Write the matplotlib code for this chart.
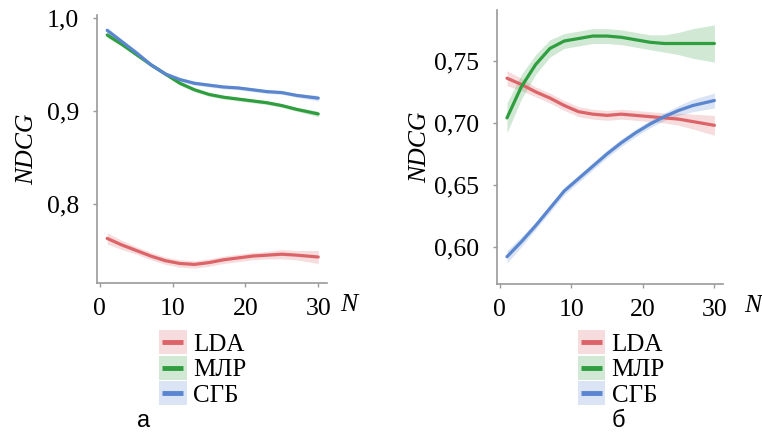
import matplotlib.pyplot as plt
from matplotlib.patches import Rectangle
from matplotlib.lines import Line2D

plt.rcParams['font.family'] = ['Liberation Serif', 'DejaVu Serif']

# number of recommendations
n_vals = [1, 3, 5, 7, 9, 11, 13, 15, 17, 19, 21, 23, 25, 27, 30]

# panel a
a_lda = [0.763, 0.756, 0.750, 0.744, 0.739, 0.736, 0.735, 0.737, 0.740, 0.742, 0.744, 0.745, 0.746, 0.745, 0.743]
a_mlr = [0.982, 0.972, 0.961, 0.950, 0.940, 0.930, 0.923, 0.918, 0.915, 0.913, 0.911, 0.909, 0.906, 0.902, 0.897]
a_sgb = [0.987, 0.975, 0.963, 0.950, 0.940, 0.934, 0.930, 0.928, 0.926, 0.925, 0.923, 0.921, 0.920, 0.917, 0.914]
a_lda_ci = [0.006, 0.005, 0.004, 0.004, 0.004, 0.004, 0.004, 0.004, 0.004, 0.004, 0.004, 0.004, 0.005, 0.005, 0.007]
a_mlr_ci = [0.003, 0.002, 0.002, 0.002, 0.002, 0.002, 0.002, 0.002, 0.002, 0.002, 0.002, 0.002, 0.002, 0.002, 0.003]
a_sgb_ci = [0.003, 0.002, 0.002, 0.002, 0.002, 0.002, 0.002, 0.002, 0.002, 0.002, 0.002, 0.002, 0.002, 0.002, 0.003]

# panel b
b_lda = [0.736, 0.731, 0.725, 0.720, 0.714, 0.709, 0.707, 0.706, 0.707, 0.706, 0.705, 0.704, 0.703, 0.701, 0.698]
b_mlr = [0.704, 0.729, 0.747, 0.760, 0.766, 0.768, 0.770, 0.770, 0.769, 0.767, 0.765, 0.764, 0.764, 0.764, 0.764]
b_sgb = [0.592, 0.604, 0.617, 0.631, 0.645, 0.655, 0.665, 0.675, 0.684, 0.692, 0.699, 0.705, 0.710, 0.714, 0.718]
b_lda_ci = [0.006, 0.005, 0.004, 0.004, 0.004, 0.004, 0.004, 0.004, 0.004, 0.004, 0.004, 0.004, 0.005, 0.006, 0.008]
b_mlr_ci = [0.012, 0.010, 0.008, 0.007, 0.006, 0.006, 0.006, 0.006, 0.006, 0.006, 0.006, 0.007, 0.009, 0.012, 0.015]
b_sgb_ci = [0.005, 0.004, 0.003, 0.003, 0.003, 0.003, 0.003, 0.003, 0.003, 0.003, 0.003, 0.003, 0.004, 0.005, 0.006]

labels = ['LDA', 'МЛР', 'СГБ']
colors = ['#dc6468', '#2f9e3f', '#5a86cf']

a_yticks = [0.8, 0.9, 1.0]
a_ylabels = ['0,8', '0,9', '1,0']
b_yticks = [0.60, 0.65, 0.70, 0.75]
b_ylabels = ['0,60', '0,65', '0,70', '0,75']
xticks = [0, 10, 20, 30]


class BandLineHandler:
    """Legend key: pale band with a shorter line across its middle."""

    def legend_artist(self, legend, orig_handle, fontsize, handlebox):
        x0, y0 = handlebox.xdescent, handlebox.ydescent
        w, h = handlebox.width, handlebox.height
        c = orig_handle.get_color()
        band = Rectangle((-x0, -y0), w, h, facecolor=c, alpha=0.22, lw=0,
                         transform=handlebox.get_transform())
        line = Line2D([-x0 + 0.1 * w, -x0 + 0.88 * w], [-y0 + h / 2] * 2,
                      color=c, lw=3.5, solid_capstyle='butt',
                      transform=handlebox.get_transform())
        handlebox.add_artist(band)
        handlebox.add_artist(line)
        return band


fig = plt.figure(figsize=(7.62, 4.34), dpi=100)
ax_a = fig.add_axes([0.1273, 0.3479, 0.3018, 0.6175])
ax_b = fig.add_axes([0.6522, 0.3456, 0.2966, 0.6313])


def draw_panel(ax, series, cis, ylim, yticks, ylabels, n_x, leg_anchor, ylabelpad):
    lines = []
    for y, ci, c, lab in zip(series, cis, colors, labels):
        lo = [v - d for v, d in zip(y, ci)]
        hi = [v + d for v, d in zip(y, ci)]
        ax.fill_between(n_vals, lo, hi, color=c, alpha=0.22, lw=0)
        ln, = ax.plot(n_vals, y, color=c, lw=2.3, solid_capstyle='round', label=lab)
        lines.append(ln)
    ax.set_xlim(-0.4, 31.2)
    ax.set_ylim(*ylim)
    ax.set_xticks(xticks)
    ax.set_xticklabels([str(t) for t in xticks])
    ax.set_yticks(yticks)
    ax.set_yticklabels(ylabels)
    for s in ['top', 'right']:
        ax.spines[s].set_visible(False)
    for s in ['left', 'bottom']:
        ax.spines[s].set_color('#9a9a9a')
        ax.spines[s].set_linewidth(1.2)
    ax.tick_params(colors='#9a9a9a', labelcolor='black', length=3, width=1,
                   labelsize=18.5)
    ax.tick_params(axis='x', pad=8)
    ax.tick_params(axis='y', pad=10)
    ax.set_ylabel('NDCG', style='italic', fontsize=18.5, labelpad=ylabelpad)
    ax.text(n_x, -0.082, 'N', transform=ax.transAxes, style='italic',
            fontsize=18.5, ha='left', va='center')

    ax.legend(lines, labels, handler_map={Line2D: BandLineHandler()},
              loc='upper left', bbox_to_anchor=leg_anchor,
              frameon=False, fontsize=18, handlelength=1.1,
              handleheight=1.1, labelspacing=0.0, handletextpad=0.25,
              borderpad=0, borderaxespad=0)


draw_panel(ax_a, [a_lda, a_mlr, a_sgb], [a_lda_ci, a_mlr_ci, a_sgb_ci],
           (0.715, 1.0035), a_yticks, a_ylabels, 1.057, (0.27, -0.176), 6)
draw_panel(ax_b, [b_lda, b_mlr, b_sgb], [b_lda_ci, b_mlr_ci, b_sgb_ci],
           (0.570, 0.791), b_yticks, b_ylabels, 1.095, (0.358, -0.169), 2)

fig.text(144 / 762, 1 - 421 / 434, 'а', family='Liberation Sans', fontsize=17,
         ha='center', va='center')
fig.text(618 / 762, 1 - 421 / 434, 'б', family='Liberation Sans', fontsize=17,
         ha='center', va='center')

fig.savefig('out.png', dpi=100)
